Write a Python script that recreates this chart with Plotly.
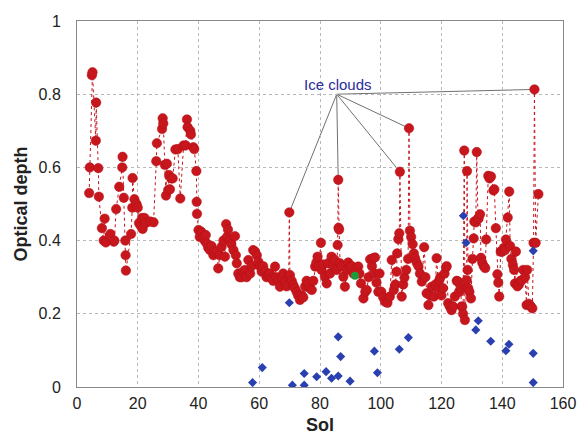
import plotly.graph_objects as go

# Red series: aerosol optical depth (sol, tau)
red_sol = [
    4.0, 4.2, 4.9, 5.1, 6.2, 6.3, 7.0, 7.2, 8.2, 8.8, 9.1, 9.5, 11.0, 12.1, 12.3, 12.9,
    13.9, 14.9, 15.0, 15.4, 15.9, 16.0, 16.1, 17.8, 18.2, 18.3, 18.9, 19.6, 20.0, 20.4,
    21.0, 21.4, 21.6, 22.2, 22.6, 24.1, 25.2, 26.1, 26.3, 28.0, 28.2, 28.4, 28.9, 29.3,
    29.6, 30.0, 30.3, 30.6, 31.0, 31.5, 32.4, 33.2, 34.0, 35.1, 35.8, 36.2, 36.4, 37.3,
    37.5, 38.3, 38.6, 39.3, 39.4, 39.5, 40.0, 40.4, 40.8, 41.2, 41.6, 42.0, 42.4, 42.7,
    43.2, 43.8, 44.3, 44.9, 45.3, 46.0, 46.5, 47.0, 47.6, 48.2, 48.7, 49.1, 49.4, 49.7,
    50.3, 50.8, 51.5, 52.0, 52.3, 52.6, 53.1, 53.6, 54.2, 54.7, 55.3, 55.8, 56.4, 57.0,
    57.5, 58.0, 58.6, 59.2, 59.7, 60.2, 60.8, 61.3, 61.9, 62.4, 63.0, 63.5, 64.1, 64.6,
    65.2, 65.7, 66.3, 66.8, 67.4, 67.9, 68.5, 69.0, 69.7, 69.9, 70.1, 70.7, 71.2, 71.7,
    72.3, 72.8, 73.4, 74.0, 74.5, 75.1, 75.6, 76.1, 76.7, 77.3, 77.8, 78.4, 78.8, 79.2,
    79.6, 80.3, 80.5, 81.0, 81.6, 82.2, 82.7, 83.3, 83.8, 84.4, 84.9, 85.5, 85.8, 86.0,
    86.1, 86.3, 86.6, 87.1, 87.7, 88.2, 88.8, 89.3, 89.9, 90.5, 91.0, 92.0, 92.6, 93.0,
    93.5, 94.3, 94.9, 95.4, 96.0, 96.5, 97.1, 97.5, 97.8, 98.1, 98.6, 99.2, 99.6, 100.2,
    100.8, 101.4, 102.2, 103.0, 103.6, 104.3, 104.8, 105.2, 105.4, 105.8, 106.1, 106.3,
    106.9, 107.4, 107.8, 108.4, 109.0, 109.3, 109.6, 110.0, 110.5, 110.9, 111.3, 111.8,
    112.4, 112.9, 113.5, 114.3, 114.7, 115.1, 115.7, 116.2, 116.8, 117.5, 118.0, 118.4,
    119.0, 119.2, 119.6, 120.0, 120.5, 121.0, 121.5, 121.7, 122.2, 122.7, 123.3, 123.8,
    124.4, 125.0, 125.5, 125.8, 126.3, 126.6, 126.8, 127.1, 127.5, 127.7, 128.0, 128.3,
    128.4, 128.6, 128.8, 129.2, 129.7, 130.2, 130.6, 130.8, 131.3, 131.6, 132.0, 132.2,
    132.7, 133.0, 133.4, 133.9, 134.4, 134.7, 135.4, 135.8, 136.3, 137.1, 137.4, 137.9,
    138.4, 138.7, 139.0, 139.5, 139.8, 140.0, 140.5, 140.9, 141.2, 141.8, 142.3, 142.6,
    143.0, 143.5, 143.9, 144.2, 144.5, 145.0, 145.5, 146.0, 146.5, 146.9, 147.5, 148.0,
    148.2, 148.8, 149.4, 149.9, 150.3, 150.6, 151.0, 151.9,
]
red_tau = [
    0.530, 0.600, 0.852, 0.860, 0.673, 0.777, 0.598, 0.520, 0.434, 0.400, 0.460, 0.395, 0.418, 0.397, 0.400, 0.486,
    0.547, 0.600, 0.629, 0.517, 0.400, 0.360, 0.318, 0.418, 0.490, 0.571, 0.513, 0.500, 0.490, 0.448,
    0.440, 0.462, 0.432, 0.462, 0.448, 0.452, 0.450, 0.617, 0.666, 0.705, 0.734, 0.720, 0.607, 0.523,
    0.610, 0.538, 0.579, 0.540, 0.570, 0.570, 0.649, 0.650, 0.515, 0.660, 0.660, 0.731, 0.710, 0.700,
    0.690, 0.655, 0.650, 0.590, 0.506, 0.473, 0.429, 0.410, 0.425, 0.420, 0.410, 0.400, 0.415, 0.392,
    0.380, 0.374, 0.385, 0.360, 0.370, 0.370, 0.324, 0.360, 0.383, 0.400, 0.356, 0.445, 0.410, 0.430,
    0.400, 0.390, 0.374, 0.412, 0.360, 0.338, 0.310, 0.300, 0.300, 0.315, 0.320, 0.300, 0.347, 0.310,
    0.330, 0.374, 0.370, 0.360, 0.342, 0.330, 0.315, 0.330, 0.315, 0.300, 0.306, 0.310, 0.297, 0.290,
    0.329, 0.300, 0.292, 0.274, 0.300, 0.310, 0.288, 0.275, 0.300, 0.477, 0.306, 0.290, 0.279, 0.270,
    0.260, 0.250, 0.238, 0.250, 0.245, 0.274, 0.290, 0.283, 0.270, 0.265, 0.290, 0.329, 0.340, 0.356,
    0.330, 0.394, 0.320, 0.335, 0.301, 0.283, 0.338, 0.310, 0.356, 0.330, 0.347, 0.320, 0.388, 0.566,
    0.435, 0.430, 0.338, 0.330, 0.301, 0.274, 0.320, 0.340, 0.329, 0.330, 0.310, 0.320, 0.329, 0.310,
    0.283, 0.242, 0.260, 0.265, 0.300, 0.349, 0.330, 0.352, 0.310, 0.354, 0.285, 0.260, 0.310, 0.260,
    0.245, 0.233, 0.230, 0.247, 0.347, 0.265, 0.280, 0.315, 0.365, 0.404, 0.420, 0.588,
    0.247, 0.280, 0.299, 0.320, 0.350, 0.707, 0.427, 0.410, 0.390, 0.365, 0.352, 0.340,
    0.330, 0.310, 0.288, 0.382, 0.300, 0.256, 0.224, 0.250, 0.274, 0.247, 0.280, 0.352,
    0.270, 0.290, 0.300, 0.250, 0.270, 0.310, 0.327, 0.330, 0.229, 0.220, 0.210, 0.220,
    0.247, 0.290, 0.288, 0.260, 0.270, 0.220, 0.219, 0.200, 0.646, 0.183, 0.270, 0.292,
    0.590, 0.320, 0.270, 0.260, 0.242, 0.350, 0.406, 0.452, 0.450, 0.642, 0.460, 0.460,
    0.472, 0.353, 0.340, 0.330, 0.325, 0.403, 0.577, 0.570, 0.575, 0.537, 0.540, 0.434,
    0.308, 0.285, 0.247, 0.370, 0.370, 0.370, 0.380, 0.374, 0.403, 0.463, 0.534, 0.385,
    0.350, 0.333, 0.320, 0.283, 0.370, 0.275, 0.280, 0.290, 0.292, 0.320, 0.300, 0.224,
    0.320, 0.227, 0.220, 0.215, 0.394, 0.813, 0.394, 0.527,
]

# Blue diamonds
blue_sol = [57.8, 61.0, 69.9, 70.9, 74.8, 74.8, 78.9, 82.0, 83.8, 86.0, 86.0, 86.8, 89.9,
            97.9, 98.9, 106.1, 109.1, 127.2, 128.1, 131.3, 132.1, 136.2, 141.2, 142.2,
            150.2, 150.2, 150.2]
blue_tau = [0.012, 0.053, 0.230, 0.005, 0.037, 0.005, 0.028, 0.042, 0.024, 0.137, 0.030, 0.083, 0.016,
            0.098, 0.039, 0.103, 0.135, 0.468, 0.394, 0.156, 0.181, 0.125, 0.099, 0.117,
            0.372, 0.092, 0.012]

# Green point
green_sol = [91.5]
green_tau = [0.304]

# Ice cloud events (sols of the red points labelled)
ice_cloud_sols = [69.9, 86.0, 106.3, 109.3, 150.6]
ice_label = "Ice clouds"

FONT = "Liberation Sans, Arial, sans-serif"

fig = go.Figure()
fig.add_trace(go.Scatter(
    x=red_sol, y=red_tau, mode="lines+markers",
    line=dict(color="#c8161d", width=1, dash="dot"),
    marker=dict(color="#c8161d", size=9.5, symbol="circle",
                line=dict(color="#b01018", width=0.5)),
    showlegend=False,
))
fig.add_trace(go.Scatter(
    x=blue_sol, y=blue_tau, mode="markers",
    marker=dict(color="#2a3fb0", size=7, symbol="diamond"),
    showlegend=False,
))
fig.add_trace(go.Scatter(
    x=green_sol, y=green_tau, mode="markers",
    marker=dict(color="#1f9a3a", size=8, symbol="circle"),
    showlegend=False,
))

# Leader lines from label to ice-cloud points
anchor_x, anchor_y = 85.5, 0.80
for s in ice_cloud_sols:
    i = min(range(len(red_sol)), key=lambda k: abs(red_sol[k] - s))
    fig.add_shape(type="line", x0=anchor_x, y0=anchor_y, x1=red_sol[i], y1=red_tau[i],
                  line=dict(color="#707070", width=1), layer="below")

fig.add_annotation(x=86, y=0.826, text=ice_label, showarrow=False,
                   font=dict(family=FONT, size=15, color="#2b2b9b"))

axis_common = dict(
    showline=True, mirror=True, linecolor="#8a8a8a", linewidth=1,
    showgrid=True, gridcolor="#b8b8b8", griddash="dot", gridwidth=1,
    zeroline=False, ticks="", automargin=False,
    tickfont=dict(family=FONT, size=16, color="#222"),
)
fig.update_xaxes(range=[0, 160], dtick=20, tick0=0, ticklabelstandoff=2,
                 title=dict(text="<b>Sol</b>", font=dict(family=FONT, size=18, color="#222"), standoff=7),
                 **axis_common)
fig.update_yaxes(range=[0, 1], dtick=0.2, tick0=0, ticklabelstandoff=12,
                 title=dict(text="<b>Optical depth</b>", font=dict(family=FONT, size=18, color="#222"), standoff=6),
                 **axis_common)

fig.update_layout(
    width=579, height=437,
    margin=dict(l=77, r=16, t=21, b=50),
    plot_bgcolor="white", paper_bgcolor="white",
    font=dict(family=FONT),
)

fig.write_html("out.html")
